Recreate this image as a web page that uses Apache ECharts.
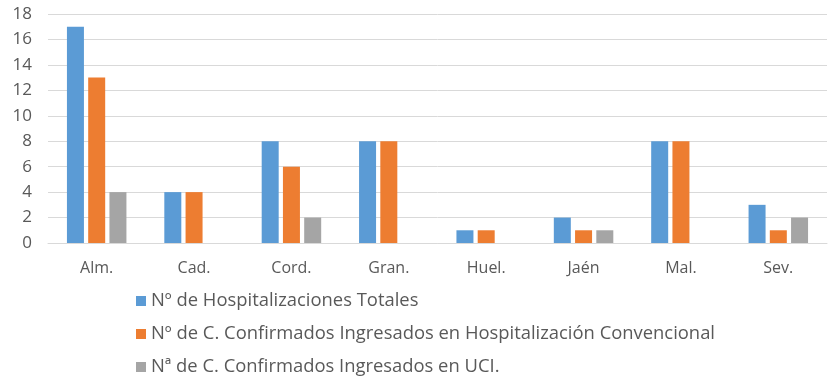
<!DOCTYPE html>
<html>
<head>
<meta charset="utf-8">
<script src="https://cdn.jsdelivr.net/npm/echarts@6/dist/echarts.min.js"></script>
<style>
  html, body { margin: 0; padding: 0; background: #fff; }
  #chart { width: 835px; height: 377px; }
</style>
</head>
<body>
<div id="chart"></div>
<script>
const categories = ['Alm.', 'Cad.', 'Cord.', 'Gran.', 'Huel.', 'Jaén', 'Mal.', 'Sev.'];
const seriesNames = [
  'Nº de Hospitalizaciones Totales',
  'Nº de C. Confirmados Ingresados en Hospitalización Convencional',
  'Nª de C. Confirmados Ingresados en UCI.'
];
const totales = [17, 4, 8, 8, 1, 2, 8, 3];
const convencional = [13, 4, 6, 8, 1, 1, 8, 1];
const uci = [4, 0, 2, 0, 0, 1, 0, 2];
const colors = ['#5B9BD5', '#ED7D31', '#A5A5A5'];

const myChart = echarts.init(document.getElementById('chart'));
const textStyle = {color: '#595959', fontFamily: 'Open Sans', fontSize: 15};

myChart.setOption({
  animation: false,
  color: colors,
  grid: {left: 48, right: 8, top: 14, bottom: 134},
  legend: {
    orient: 'vertical',
    left: 136,
    top: 292,
    height: 85,
    padding: 0,
    itemWidth: 10,
    itemHeight: 10,
    itemGap: 15,
    icon: 'rect',
    textStyle: Object.assign({}, textStyle, {fontSize: 18.4}),
    data: seriesNames
  },
  xAxis: {
    type: 'category',
    data: categories,
    axisTick: {show: false},
    axisLine: {lineStyle: {color: '#D9D9D9'}},
    axisLabel: Object.assign({}, textStyle, {margin: 17, fontSize: 16})
  },
  yAxis: {
    type: 'value',
    min: 0,
    max: 18,
    interval: 2,
    axisLine: {show: false},
    axisTick: {show: false},
    splitLine: {lineStyle: {color: '#D9D9D9'}},
    axisLabel: Object.assign({}, textStyle, {margin: 16, fontSize: 17})
  },
  series: [
    {name: seriesNames[0], type: 'bar', data: totales, barWidth: 17, barGap: '25%'},
    {name: seriesNames[1], type: 'bar', data: convencional, barWidth: 17, barGap: '25%'},
    {name: seriesNames[2], type: 'bar', data: uci, barWidth: 17, barGap: '25%'}
  ]
});
</script>
</body>
</html>
